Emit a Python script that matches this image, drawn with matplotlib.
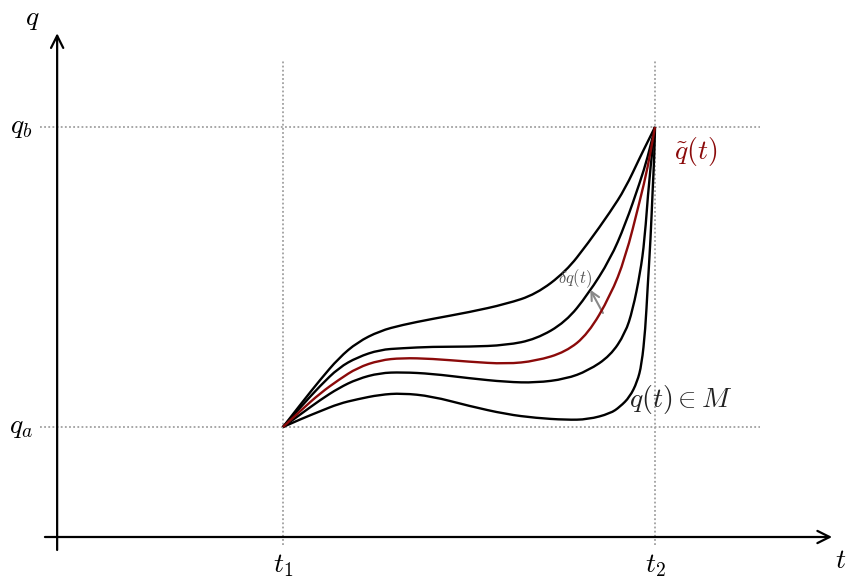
import matplotlib
matplotlib.use("Agg")
import matplotlib.pyplot as plt
from matplotlib.path import Path
from matplotlib.patches import PathPatch

plt.rcParams['mathtext.fontset'] = 'cm'
plt.rcParams['font.family'] = ['DejaVu Serif']

# boundary values
t1, t2 = 3.0, 8.0
qa, qb = 1.5, 5.5

# family of paths q(t) between (t1, qa) and (t2, qb)
t_top = [3.0, 3.25, 3.5, 3.75, 4.0, 4.3, 4.6, 5.0, 5.5, 6.0, 6.4, 6.8, 7.1, 7.4, 7.6, 7.8, 7.9, 8.0]
q_top = [1.50, 1.82, 2.13, 2.42, 2.63, 2.78, 2.86, 2.94, 3.03, 3.14, 3.27, 3.57, 3.95, 4.37, 4.68, 5.10, 5.30, 5.50]

t_second = [3.0, 3.25, 3.5, 3.75, 4.0, 4.3, 4.6, 5.0, 5.5, 6.0, 6.4, 6.8, 7.1, 7.4, 7.6, 7.8, 7.9, 8.0]
q_second = [1.50, 1.78, 2.05, 2.29, 2.43, 2.53, 2.55, 2.57, 2.57, 2.59, 2.67, 2.90, 3.27, 3.74, 4.20, 4.77, 5.09, 5.50]

# the true path q~(t)
t_true = [3.0, 3.25, 3.5, 3.75, 4.0, 4.3, 4.6, 5.0, 5.5, 6.0, 6.4, 6.8, 7.1, 7.4, 7.6, 7.8, 7.9, 8.0]
q_true = [1.50, 1.73, 1.95, 2.13, 2.29, 2.39, 2.42, 2.41, 2.37, 2.34, 2.38, 2.50, 2.74, 3.25, 3.75, 4.53, 4.95, 5.50]

t_fourth = [3.0, 3.25, 3.5, 3.75, 4.0, 4.3, 4.6, 5.0, 5.5, 6.0, 6.4, 6.8, 7.1, 7.4, 7.6, 7.7, 7.8, 7.86, 7.92, 8.0]
q_fourth = [1.50, 1.68, 1.86, 2.02, 2.14, 2.22, 2.23, 2.21, 2.15, 2.10, 2.09, 2.14, 2.25, 2.45, 2.75, 3.06, 3.55, 3.99,
            4.79, 5.50]

t_bottom = [3.0, 3.25, 3.5, 3.75, 4.0, 4.3, 4.6, 5.0, 5.5, 6.0, 6.4, 6.8, 7.1, 7.4, 7.53, 7.66, 7.76,
            7.82, 7.87, 7.90, 7.94, 7.97, 7.99, 8.0]
q_bottom = [1.50, 1.61, 1.71, 1.81, 1.87, 1.93, 1.95, 1.91, 1.78, 1.67, 1.62, 1.595, 1.60, 1.68, 1.77, 1.90, 2.10,
            2.33, 2.80, 3.35, 4.00, 4.70, 5.10, 5.50]

black_paths = [(t_top, q_top), (t_second, q_second), (t_fourth, q_fourth), (t_bottom, q_bottom)]


def smooth_path(t, q):
    # quadratic bezier through the midpoints, samples act as control points
    verts = [(t[0], q[0])]
    codes = [Path.MOVETO]
    for i in range(1, len(t) - 1):
        verts += [(t[i], q[i]), ((t[i] + t[i + 1]) / 2, (q[i] + q[i + 1]) / 2)]
        codes += [Path.CURVE3, Path.CURVE3]
    verts.append((t[-1], q[-1]))
    codes.append(Path.LINETO)
    return Path(verts, codes)


fig = plt.figure(figsize=(8.46, 5.79), dpi=100)
ax = fig.add_axes([0, 0, 1, 1])
ax.set_xlim(-0.804, 10.567)
ax.set_ylim(-0.527, 7.193)
ax.axis('off')

grid_kw = dict(color='#a0a0a0', lw=1.3, linestyle=(0, (1, 1.3)), zorder=1)
ax.plot([t1, t1], [-0.08, 6.39], **grid_kw)
ax.plot([t2, t2], [-0.08, 6.39], **grid_kw)
ax.plot([-0.27, 9.41], [qa, qa], **grid_kw)
ax.plot([-0.27, 9.41], [qb, qb], **grid_kw)

# axes with arrow heads
arrow_kw = dict(arrowstyle='->', lw=1.6, color='black', mutation_scale=22, shrinkA=0, shrinkB=0)
ax.annotate('', xy=(10.38, 0.033), xytext=(-0.2, 0.033), arrowprops=arrow_kw)
ax.annotate('', xy=(-0.036, 6.75), xytext=(-0.036, -0.14), arrowprops=arrow_kw)

for t, q in black_paths:
    ax.add_patch(PathPatch(smooth_path(t, q), facecolor='none', edgecolor='black', lw=1.7, zorder=3))
ax.add_patch(PathPatch(smooth_path(t_true, q_true), facecolor='none', edgecolor='#8b0a0a', lw=1.7, zorder=4))

# variation arrow
ax.annotate('', xy=(7.13, 3.33), xytext=(7.3, 3.02),
            arrowprops=dict(arrowstyle='->', lw=1.5, color='#888888', mutation_scale=15,
                            shrinkA=0, shrinkB=0))
ax.text(6.92, 3.48, r'$\delta q(t)$', fontsize=12, color='#555555', ha='center', va='center')

ax.text(-0.37, 6.95, r'$q$', fontsize=20, ha='center', va='center')
ax.text(10.5, -0.28, r'$t$', fontsize=20, ha='center', va='center')
ax.text(-0.52, qb, r'$q_b$', fontsize=20, ha='center', va='center')
ax.text(-0.52, qa, r'$q_a$', fontsize=20, ha='center', va='center')
ax.text(t1, -0.35, r'$t_1$', fontsize=20, ha='center', va='center')
ax.text(t2, -0.35, r'$t_2$', fontsize=20, ha='center', va='center')
ax.text(8.55, 5.17, r'$\tilde{q}(t)$', fontsize=20, color='#8b0a0a', ha='center', va='center')
ax.text(8.34, 1.86, r'$q(t) \in M$', fontsize=20, color='#222222', ha='center', va='center')

fig.savefig('out.png', dpi=100)
